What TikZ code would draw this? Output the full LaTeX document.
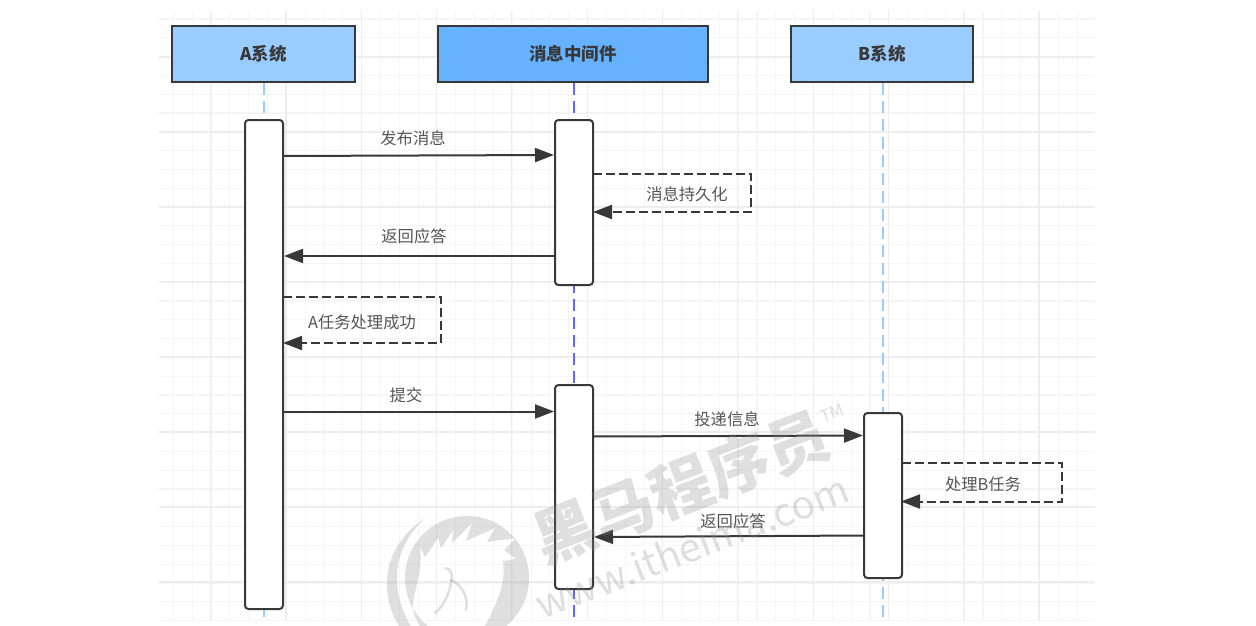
\documentclass[tikz,border=0pt]{standalone}
\usepackage{fontspec}
\setmainfont{Noto Sans CJK SC}
\usetikzlibrary{arrows.meta}
\definecolor{ink}{HTML}{383838}
\definecolor{txt}{HTML}{555555}
\definecolor{headlight}{HTML}{99CCFF}
\definecolor{headmid}{HTML}{66B2FF}
\definecolor{lifeB}{HTML}{99CCFF}
\definecolor{lifeM}{HTML}{6666FF}
\definecolor{gridminor}{HTML}{F5F5F5}
\definecolor{gridmajor}{HTML}{EDEDED}
\tikzset{
  headbox/.style={draw=ink,line width=2pt,minimum height=56pt,inner sep=0pt,font=\fontsize{17.5}{19}\selectfont\bfseries,text=ink},
  actbox/.style={draw=ink,fill=white,line width=2pt,rounded corners=3.5pt,minimum width=38pt,inner sep=0pt},
  life/.style={line width=2pt,dash pattern=on 12pt off 6pt},
  msg/.style={draw=ink,line width=2pt,-{Triangle[length=19pt,width=14pt]}},
  selfmsg/.style={msg,dash pattern=on 9pt off 4pt},
  lab/.style={font=\fontsize{16.3}{18}\selectfont,text=txt,inner sep=0pt},
  wmark/.style={text=black!45,opacity=.27,inner sep=0pt},
  wshape/.style={black!45,opacity=.27},
}
\begin{document}
\begin{tikzpicture}[x=1pt,y=-1pt]
\useasboundingbox (0,0) rectangle (1256,626);
\fill[white] (0,0) rectangle (1256,626);
% grid
\foreach \k in {0,...,48}{
  \draw[gridminor,line width=1.1pt] ({173.3+18.83*\k},11) -- ({173.3+18.83*\k},621);
}
\foreach \k in {0,...,32}{
  \draw[gridminor,line width=1.1pt] (159,{19+18.8*\k}) -- (1095,{19+18.8*\k});
}
\foreach \k in {0,...,11}{
  \draw[gridmajor,line width=1.1pt] ({210.7+75.3*\k},11) -- ({210.7+75.3*\k},621);
}
\foreach \k in {0,...,7}{
  \draw[gridmajor,line width=1.1pt] (159,{57+75*\k}) -- (1095,{57+75*\k});
}
% heads
\node[headbox,fill=headlight,minimum width=183pt] (hA) at (263.5,54) {A系统};
\node[headbox,fill=headmid,minimum width=270pt] (hM) at (573,54) {消息中间件};
\node[headbox,fill=headlight,minimum width=182pt] (hB) at (882,54) {B系统};
% lifeline ends
\coordinate (eA) at (264,620);
\coordinate (eM) at (574,620);
\coordinate (eB) at (883,620);
\draw[life,lifeB] (hA.south -| eA) -- (eA);
\draw[life,lifeM] (hM.south -| eM) -- (eM);
\draw[life,lifeB] (hB.south -| eB) -- (eB);
% activations
\node[actbox,minimum height=489pt] (aA) at (264,364.5) {};
\node[actbox,minimum height=165pt] (aM1) at (574,202.5) {};
\node[actbox,minimum height=204pt] (aM2) at (574,487) {};
\node[actbox,minimum height=165pt] (aB) at (883,495.5) {};
% message anchors
\coordinate (m1a) at (283,156); \coordinate (m1b) at (554,155);
\coordinate (m2a) at (555,256); \coordinate (m2b) at (284,256);
\coordinate (m3a) at (283,411.5); \coordinate (m3b) at (554,411.5);
\coordinate (m4a) at (593,436.5); \coordinate (m4b) at (863,435.5);
\coordinate (m5a) at (864,535.5); \coordinate (m5b) at (594,537);
\draw[msg] (m1a) -- (m1b);
\draw[msg] (m2a) -- (m2b);
\draw[msg] (m3a) -- (m3b);
\draw[msg] (m4a) -- (m4b);
\draw[msg] (m5a) -- (m5b);
% self messages
\coordinate (s1a) at (593,174); \coordinate (s1b) at (593,212);
\coordinate (s2a) at (283,297); \coordinate (s2b) at (283,343);
\coordinate (s3a) at (902,463); \coordinate (s3b) at (901,501.5);
\draw[selfmsg] (s1a) -- (751,174) -- (751,212) -- (s1b);
\draw[selfmsg] (s2a) -- (441,297) -- (441,343) -- (s2b);
\draw[selfmsg] (s3a) -- (1062,463) -- (1062,501.5) -- (s3b);
% labels
\node[lab] (l1) at (413,138) {发布消息};
\node[lab] (l2) at (687,194) {消息持久化};
\node[lab] (l3) at (414,236) {返回应答};
\node[lab] (l4) at (362,322) {A任务处理成功};
\node[lab] (l5) at (406,395) {提交};
\node[lab] (l6) at (727,419) {投递信息};
\node[lab] (l7) at (983,484) {处理B任务};
\node[lab] (l8) at (733,521) {返回应答};
% watermark
\begin{scope}
\clip (0,0) rectangle (1256,626);
\node[wmark,font=\fontsize{62}{64}\selectfont\bfseries,rotate=21] (w1) at (681,487) {黑马程序员};
\node[wmark,font=\fontsize{39}{41}\selectfont,rotate=21] (w2) at (692,546) {www.itheima.com};
\node[wmark,font=\fontsize{17}{18}\selectfont,rotate=21] (w3) at (832,413) {TM};
% logo: head disc with mane-shaped opening
\fill[wshape,even odd rule] (467,578) circle (62pt)
  (420,547) -- (425,557) -- (438,538) -- (441,548) -- (453,530) -- (452,543)
  -- (472,523) -- (466,541) -- (495,528) -- (487,542) -- (516,538) -- (504,550)
  -- (516,559) -- (503,561) .. controls (506,580) and (500,605) .. (470,650)
  -- (430,650) .. controls (425,630) and (413,620) .. (413,607)
  .. controls (413,590) and (423,575) .. (420,547) -- cycle;
% outer crescent
\fill[wshape] (425,518) .. controls (400,535) and (387,558) .. (387,583)
  .. controls (387,605) and (395,625) .. (410,640) -- (420,640)
  .. controls (405,620) and (397,600) .. (397,578)
  .. controls (397,555) and (407,535) .. (425,518) -- cycle;
% small figure
\draw[wshape,line width=2.5pt,line cap=round] (445,568) .. controls (451,568) and (453,575) .. (451,583) .. controls (449,595) and (442,608) .. (435,613);
\draw[wshape,line width=2.5pt,line cap=round] (451,580) .. controls (460,584) and (469,595) .. (466,610);
\end{scope}
\end{tikzpicture}
\end{document}
